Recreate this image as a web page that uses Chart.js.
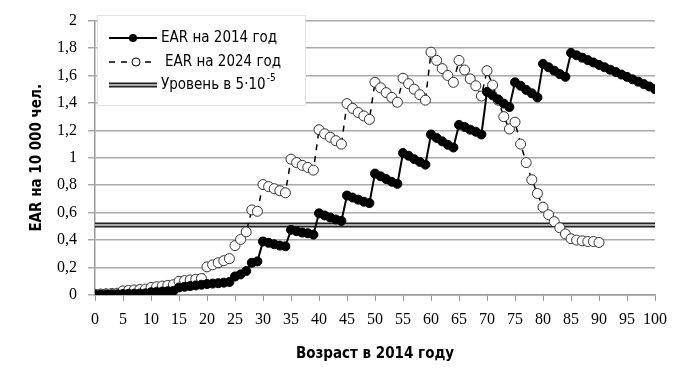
<!DOCTYPE html>
<html lang="ru">
<head>
    <meta charset="UTF-8">
    <title>EAR по возрасту</title>
    <style>
        body { margin: 0; padding: 0; background: #fff; }
        .wrap { width: 691px; height: 383px; }
    </style>
</head>
<body>
    <div class="wrap"><canvas id="earChart" width="691" height="383"></canvas></div>

    <script src="https://cdn.jsdelivr.net/npm/chart.js"></script>
    <script>
        // возраст в 2014 году
        const ages = Array.from({ length: 101 }, (_, i) => i);

        // EAR на 2014 год (на 10 000 чел.)
        const ear2014 = [
            0.002, 0.003, 0.004, 0.005, 0.006,
            0.008, 0.009, 0.010, 0.011, 0.012,
            0.020, 0.022, 0.025, 0.028, 0.030,
            0.055, 0.060, 0.065, 0.070, 0.075,
            0.080, 0.083, 0.086, 0.090, 0.095,
            0.135, 0.150, 0.175, 0.235, 0.245,
            0.390, 0.380, 0.370, 0.360, 0.355,
            0.475, 0.465, 0.455, 0.450, 0.440,
            0.595, 0.580, 0.565, 0.550, 0.540,
            0.725, 0.710, 0.695, 0.680, 0.670,
            0.885, 0.865, 0.845, 0.825, 0.810,
            1.035, 1.015, 0.990, 0.970, 0.950,
            1.170, 1.145, 1.120, 1.095, 1.075,
            1.240, 1.225, 1.205, 1.190, 1.170,
            1.480, 1.455, 1.425, 1.395, 1.370,
            1.550, 1.525, 1.495, 1.470, 1.440,
            1.685, 1.660, 1.635, 1.610, 1.590,
            1.765, 1.747, 1.730, 1.712, 1.695,
            1.677, 1.660, 1.642, 1.625, 1.607,
            1.590, 1.572, 1.555, 1.537, 1.520,
            1.500
        ];

        // EAR на 2024 год (до 90 лет)
        const ear2024 = [
            0.005, 0.007, 0.009, 0.011, 0.013,
            0.030, 0.033, 0.037, 0.040, 0.043,
            0.055, 0.060, 0.065, 0.070, 0.075,
            0.100, 0.105, 0.110, 0.115, 0.120,
            0.205, 0.220, 0.235, 0.250, 0.265,
            0.360, 0.405, 0.460, 0.620, 0.610,
            0.805, 0.790, 0.775, 0.760, 0.745,
            0.990, 0.965, 0.945, 0.930, 0.910,
            1.205, 1.175, 1.150, 1.125, 1.100,
            1.395, 1.360, 1.330, 1.305, 1.280,
            1.550, 1.510, 1.475, 1.440, 1.405,
            1.580, 1.540, 1.500, 1.460, 1.420,
            1.770, 1.710, 1.650, 1.600, 1.550,
            1.710, 1.640, 1.575, 1.525, 1.450,
            1.635, 1.530, 1.420, 1.300, 1.210,
            1.260, 1.100, 0.965, 0.840, 0.740,
            0.640, 0.585, 0.535, 0.490, 0.445,
            0.410, 0.400, 0.395, 0.390, 0.390,
            0.383
        ];

        // уровень 5·10^-5
        const levelX = [0, 100];
        const levelValue = 0.51;

        const legendLabels = ['EAR на 2014 год', 'EAR на 2024 год', 'Уровень в 5·10'];
        const yTitle = 'EAR на 10 000 чел.';
        const xTitle = 'Возраст в 2014 году';

        const toPoints = (xs, ys) => ys.map((v, i) => ({ x: xs[i], y: v }));

        const tickFont = { family: "'Liberation Serif', 'Times New Roman', serif", size: 16 };
        const titleFont = { family: "'Liberation Sans Narrow', 'DejaVu Sans Condensed', Arial, sans-serif", size: 15, weight: 'bold' };
        const legendFont = "15px 'Liberation Sans Narrow', 'DejaVu Sans Condensed', Arial, sans-serif";

        // легенда внутри области графика
        const insideLegend = {
            id: 'insideLegend',
            beforeDatasetsDraw(chart) {
                const ctx = chart.ctx;
                const area = chart.chartArea;
                const x0 = area.left + 2, y0 = 15, w = 208, h = 90;
                ctx.save();
                ctx.fillStyle = '#fff';
                ctx.fillRect(x0, y0, w, h);
                ctx.strokeStyle = '#e4e4e4';
                ctx.lineWidth = 1;
                ctx.strokeRect(x0 + 0.5, y0 + 0.5, w, h);

                const sx1 = x0 + 12, sx2 = x0 + 60, tx = x0 + 64;
                const rows = [38, 62, 85];

                // 2014
                ctx.strokeStyle = '#000';
                ctx.lineWidth = 2;
                ctx.setLineDash([]);
                ctx.beginPath(); ctx.moveTo(sx1, rows[0]); ctx.lineTo(sx2, rows[0]); ctx.stroke();
                ctx.fillStyle = '#000';
                ctx.beginPath(); ctx.arc((sx1 + sx2) / 2, rows[0], 4, 0, Math.PI * 2); ctx.fill();

                // 2024
                ctx.lineWidth = 1.5;
                ctx.setLineDash([6, 6]);
                ctx.beginPath(); ctx.moveTo(sx1, rows[1]); ctx.lineTo(sx2, rows[1]); ctx.stroke();
                ctx.setLineDash([]);
                ctx.fillStyle = '#fff';
                ctx.lineWidth = 1;
                ctx.beginPath(); ctx.arc((sx1 + sx2) / 2 + 3, rows[1], 4, 0, Math.PI * 2); ctx.fill(); ctx.stroke();

                // уровень
                ctx.lineWidth = 5;
                ctx.strokeStyle = '#222';
                ctx.beginPath(); ctx.moveTo(sx1, rows[2]); ctx.lineTo(sx2, rows[2]); ctx.stroke();
                ctx.lineWidth = 2;
                ctx.strokeStyle = '#aaa';
                ctx.beginPath(); ctx.moveTo(sx1, rows[2]); ctx.lineTo(sx2, rows[2]); ctx.stroke();

                ctx.fillStyle = '#000';
                ctx.font = legendFont;
                ctx.textBaseline = 'middle';
                ctx.textAlign = 'left';
                ctx.fillText(legendLabels[0], tx, rows[0]);
                ctx.fillText(legendLabels[1], tx + 4, rows[1]);
                ctx.fillText(legendLabels[2], tx, rows[2]);
                const wBase = ctx.measureText(legendLabels[2]).width;
                ctx.font = "10px 'Liberation Sans Narrow', 'DejaVu Sans Condensed', Arial, sans-serif";
                ctx.fillText('-5', tx + wBase + 1, rows[2] - 7);
                ctx.restore();
            }
        };

        new Chart(document.getElementById('earChart').getContext('2d'), {
            type: 'line',
            data: {
                datasets: [
                    {
                        label: 'level-border',
                        data: toPoints(levelX, [levelValue, levelValue]),
                        borderColor: '#222',
                        borderWidth: 5,
                        pointRadius: 0,
                        order: 5
                    },
                    {
                        label: 'level-fill',
                        data: toPoints(levelX, [levelValue, levelValue]),
                        borderColor: '#aaa',
                        borderWidth: 2,
                        pointRadius: 0,
                        order: 4
                    },
                    {
                        label: legendLabels[1],
                        data: toPoints(ages, ear2024),
                        borderColor: '#000',
                        borderWidth: 1.5,
                        borderDash: [6, 6],
                        pointRadius: 5,
                        pointBackgroundColor: '#fff',
                        pointBorderColor: '#333',
                        pointBorderWidth: 1,
                        order: 2
                    },
                    {
                        label: legendLabels[0],
                        data: toPoints(ages, ear2014),
                        borderColor: '#000',
                        borderWidth: 2,
                        pointRadius: 4.5,
                        pointBackgroundColor: '#000',
                        pointBorderColor: '#000',
                        pointBorderWidth: 1,
                        order: 1
                    }
                ]
            },
            options: {
                responsive: false,
                animation: false,
                parsing: false,
                layout: { padding: { left: 0, right: 36, top: 14, bottom: 0 } },
                plugins: {
                    legend: { display: false },
                    tooltip: { enabled: false }
                },
                scales: {
                    x: {
                        type: 'linear',
                        min: 0,
                        max: 100,
                        ticks: { stepSize: 5, font: tickFont, color: '#000', padding: 9, maxRotation: 0, autoSkip: false },
                        grid: { drawOnChartArea: false, drawTicks: true, tickLength: 6, color: '#999', lineWidth: 1 },
                        border: { color: '#999', width: 1.5 },
                        title: { display: true, text: xTitle, font: titleFont, color: '#000', padding: { top: 6, bottom: 20 } },
                        afterFit(scale) { scale.height = 88; }
                    },
                    y: {
                        min: 0,
                        max: 2,
                        ticks: {
                            stepSize: 0.2,
                            font: tickFont,
                            color: '#000',
                            padding: 11,
                            callback: v => String(Math.round(v * 10) / 10).replace('.', ',')
                        },
                        grid: { color: '#aaa', lineWidth: 1.5, drawTicks: true, tickLength: 7 },
                        border: { color: '#999', width: 1.5 },
                        title: { display: true, text: yTitle, font: titleFont, color: '#000', padding: { top: 28, bottom: 0 } },
                        afterFit(scale) { scale.width = 95; }
                    }
                }
            },
            plugins: [insideLegend]
        });
    </script>
</body>
</html>
